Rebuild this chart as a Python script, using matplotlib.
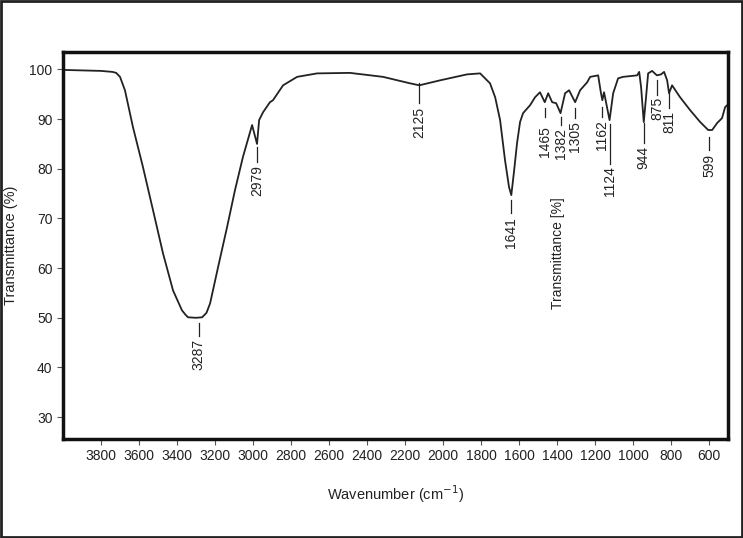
import numpy as np
import matplotlib.pyplot as plt
from matplotlib.patches import Rectangle

plt.rcParams['font.family'] = ['Liberation Sans', 'DejaVu Sans']

# FTIR spectrum
wavenumber = [4000, 3900, 3800, 3740, 3720, 3700, 3674, 3632, 3579, 3526,
              3474, 3421, 3374, 3355, 3342, 3300, 3268, 3245, 3226, 3184,
              3137, 3095, 3053, 3020, 3005, 2979, 2968, 2947, 2911, 2895,
              2842, 2768, 2663, 2490, 2316, 2174, 2125, 2016, 1874, 1805,
              1753, 1726, 1700, 1674, 1653, 1641, 1626, 1611, 1595, 1579,
              1542, 1516, 1490, 1465, 1447, 1426, 1405, 1382, 1358, 1337,
              1305, 1279, 1242, 1226, 1184, 1170, 1162, 1153, 1124, 1105,
              1079, 1053, 979, 968, 958, 944, 932, 921, 900, 875,
              853, 837, 821, 811, 795, 753, 700, 647, 605, 584,
              558, 532, 516, 505]
transmittance = [99.9, 99.8, 99.7, 99.5, 99.3, 98.5, 95.8, 88.4, 80.3, 71.6,
                 63.0, 55.5, 51.5, 50.6, 50.1, 50.0, 50.1, 51.0, 52.9, 60.2,
                 68.2, 75.7, 82.4, 86.8, 88.8, 85.0, 89.8, 91.4, 93.4, 93.8,
                 96.8, 98.5, 99.2, 99.3, 98.5, 97.2, 96.8, 97.8, 99.0, 99.2,
                 97.2, 94.4, 89.8, 81.7, 76.3, 74.7, 79.7, 85.1, 89.4, 91.2,
                 92.8, 94.4, 95.4, 93.4, 95.2, 93.4, 93.2, 91.2, 95.2, 95.8,
                 93.4, 95.8, 97.4, 98.5, 98.8, 95.4, 93.8, 95.4, 89.8, 95.2,
                 98.2, 98.5, 98.8, 99.5, 96.4, 89.4, 94.4, 99.2, 99.7, 98.8,
                 99.0, 99.5, 97.8, 95.2, 96.8, 94.4, 91.8, 89.4, 87.8, 87.8,
                 89.2, 90.2, 92.4, 92.8]

# labelled peaks
peak_labels = ['3287', '2979', '2125', '1641', '1465', '1382', '1305',
               '1162', '1124', '944', '875', '811', '599']
peak_wn = [3287, 2979, 2125, 1641, 1465, 1382, 1305, 1162, 1124, 944, 875, 811, 599]
# marker line top / bottom and text top (in % units)
mark_top = [49.0, 84.3, 97.2, 73.7, 92.2, 90.4, 92.2, 92.4, 89.0, 89.2, 97.8, 95.2, 86.4]
mark_bot = [46.3, 81.3, 93.2, 71.0, 90.4, 88.8, 90.2, 90.4, 80.9, 85.1, 94.8, 92.2, 83.8]
text_top = [45.7, 80.8, 92.4, 70.2, 88.6, 88.2, 89.6, 89.8, 80.5, 84.6, 94.4, 91.6, 82.9]

fig = plt.figure(figsize=(7.43, 5.38), dpi=100)
ax = fig.add_axes([0.0848, 0.184, 0.8952, 0.7193])

ax.plot(wavenumber, transmittance, color='#222222', lw=1.3)

for lab, w, t1, t2, tt in zip(peak_labels, peak_wn, mark_top, mark_bot, text_top):
    ax.plot([w, w], [t1, t2], color='#222222', lw=0.9)
    ax.text(w, tt, lab, rotation=90, ha='center', va='top', fontsize=10, color='#222222')

ax.text(1395, 74.3, 'Transmittance [%]', rotation=90, ha='center', va='top',
        fontsize=10, color='#222222')

ax.set_xlim(4000, 500)
ax.set_ylim(25.6, 103.5)
ax.set_xticks(np.arange(3800, 500, -200))
ax.set_yticks(np.arange(30, 101, 10))
ax.tick_params(direction='out', length=4, width=0.8, color='#555555',
               labelsize=10, labelcolor='#222222')
for s in ax.spines.values():
    s.set_linewidth(2.5)
    s.set_color('#111111')

ax.set_xlabel('Wavenumber (cm$^{-1}$)', fontsize=10.5, color='#222222', labelpad=14)
ax.set_ylabel('Transmittance (%)', fontsize=10.5, color='#222222', labelpad=8)

fig.patches.append(Rectangle((0.001, 0.001), 0.998, 0.998, transform=fig.transFigure,
                             fill=False, edgecolor='#222222', lw=2))

fig.savefig('out.png', dpi=100)
